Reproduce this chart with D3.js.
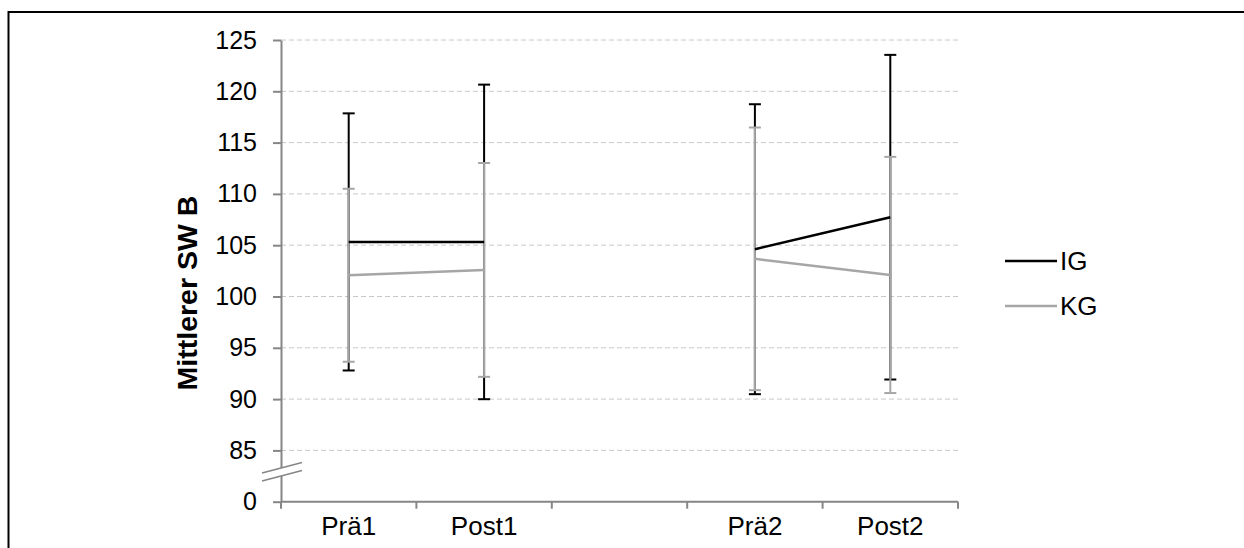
<!DOCTYPE html>
<html>
<head>
<meta charset="utf-8">
<script src="https://cdn.jsdelivr.net/npm/d3@7"></script>
<style>
  body { margin: 0; background: #fff; }
  svg { display: block; }
  text { font-family: "Liberation Sans", Arial, sans-serif; fill: #000; }
</style>
</head>
<body>
<svg id="chart" width="1244" height="548"></svg>
<script>
// Measurement points (one empty slot separates the two phases)
const categories = ["Prä1", "Post1", "", "Prä2", "Post2"];

// Mean scores and standard deviations per group
const igMean = [105.32, 105.32, null, 104.61, 107.73];
const igSD   = [12.53, 15.33, null, 14.13, 15.82];
const kgMean = [102.07, 102.59, null, 103.67, 102.10];
const kgSD   = [8.43, 10.42, null, 12.80, 11.51];

// Y axis ticks; the lowest tick sits below the axis break and reads 0
const yTicks = [80, 85, 90, 95, 100, 105, 110, 115, 120, 125];
const yTickLabels = ["0", "85", "90", "95", "100", "105", "110", "115", "120", "125"];

const seriesNames = ["IG", "KG"];
const seriesColors = { IG: "#000000", KG: "#a6a6a6" };

const svg = d3.select("#chart");
const axisColor = "#868686";
const gridColor = "#c8c8c8";
const yLabelSize = 25;
const xLabelSize = 26;

const plot = { left: 281, right: 958, top: 40, bottom: 501.7 };

const x = d3.scaleBand()
  .domain(d3.range(categories.length))
  .range([plot.left, plot.right])
  .paddingInner(0).paddingOuter(0);

const y = d3.scaleLinear()
  .domain([80, 125])
  .range([plot.bottom, plot.top]);

const cx = i => x(i) + x.bandwidth() / 2;

// Outer frame
svg.append("path")
  .attr("d", "M8.5,548 V12 H1244")
  .attr("fill", "none")
  .attr("stroke", "#000")
  .attr("stroke-width", 2);

// Horizontal dashed gridlines
svg.append("g")
  .selectAll("line")
  .data(yTicks.filter(t => t > 80))
  .join("line")
  .attr("x1", plot.left).attr("x2", plot.right)
  .attr("y1", d => y(d)).attr("y2", d => y(d))
  .attr("stroke", gridColor)
  .attr("stroke-width", 1)
  .attr("stroke-dasharray", "5,3");

// Y axis
const yAxis = d3.axisLeft(y)
  .tickValues(yTicks)
  .tickFormat((d, i) => yTickLabels[i])
  .tickSizeInner(8).tickSizeOuter(0).tickPadding(16);

const gy = svg.append("g")
  .attr("transform", `translate(${plot.left},0)`)
  .call(yAxis);
gy.select(".domain").attr("stroke", axisColor).attr("stroke-width", 2);
gy.selectAll(".tick line").attr("stroke", axisColor).attr("stroke-width", 2);
gy.selectAll(".tick text")
  .attr("font-size", yLabelSize)
  .attr("font-family", "Liberation Sans, Arial, sans-serif")
  .attr("fill", "#000");

// X axis: ticks between categories
const xAxis = d3.axisBottom(x)
  .tickFormat(i => categories[i])
  .tickSize(0).tickPadding(15);

const gx = svg.append("g")
  .attr("transform", `translate(0,${plot.bottom})`)
  .call(xAxis);
gx.select(".domain").remove();
gx.selectAll(".tick text")
  .attr("font-size", xLabelSize)
  .attr("font-family", "Liberation Sans, Arial, sans-serif")
  .attr("fill", "#000");

const bounds = d3.range(categories.length).map(i => x(i)).concat([plot.right]);
gx.append("line")
  .attr("x1", plot.left).attr("x2", plot.right)
  .attr("y1", 0).attr("y2", 0)
  .attr("stroke", axisColor).attr("stroke-width", 2);
gx.selectAll(".xtick")
  .data(bounds)
  .join("line")
  .attr("class", "xtick")
  .attr("x1", d => d).attr("x2", d => d)
  .attr("y1", 0).attr("y2", 7)
  .attr("stroke", axisColor).attr("stroke-width", 2);

// Axis break marks between 0 and 85
const breakVal = 82.4;
const brk = svg.append("g");
const bx0 = plot.left - 19, bx1 = plot.left + 21;
const slope = -10.5;
brk.append("path")
  .attr("d", `M${bx0},${y(breakVal) - 4} L${bx1},${y(breakVal) - 4 + slope} L${bx1},${y(breakVal) + 4 + slope} L${bx0},${y(breakVal) + 4} Z`)
  .attr("fill", "#fff");
[-4, 4].forEach(off => {
  brk.append("line")
    .attr("x1", bx0).attr("y1", y(breakVal) + off)
    .attr("x2", bx1).attr("y2", y(breakVal) + off + slope)
    .attr("stroke", axisColor).attr("stroke-width", 1.5);
});

// Error bars (mean ± SD)
function errorBars(means, sds, color) {
  const g = svg.append("g");
  const data = means.map((m, i) => ({ i, m, s: sds[i] })).filter(d => d.m != null);
  const cap = 6;
  g.selectAll(".v").data(data).join("line")
    .attr("x1", d => cx(d.i)).attr("x2", d => cx(d.i))
    .attr("y1", d => y(d.m + d.s)).attr("y2", d => y(d.m - d.s))
    .attr("stroke", color).attr("stroke-width", 2);
  g.selectAll(".t").data(data).join("line")
    .attr("x1", d => cx(d.i) - cap).attr("x2", d => cx(d.i) + cap)
    .attr("y1", d => y(d.m + d.s)).attr("y2", d => y(d.m + d.s))
    .attr("stroke", color).attr("stroke-width", 2);
  g.selectAll(".b").data(data).join("line")
    .attr("x1", d => cx(d.i) - cap).attr("x2", d => cx(d.i) + cap)
    .attr("y1", d => y(d.m - d.s)).attr("y2", d => y(d.m - d.s))
    .attr("stroke", color).attr("stroke-width", 2);
}

errorBars(igMean, igSD, seriesColors.IG);
errorBars(kgMean, kgSD, seriesColors.KG);

// Mean lines (gap at the empty slot)
const line = d3.line()
  .defined(d => d.m != null)
  .x(d => cx(d.i))
  .y(d => y(d.m));

[["KG", kgMean], ["IG", igMean]].forEach(([name, means]) => {
  svg.append("path")
    .datum(means.map((m, i) => ({ i, m })))
    .attr("d", line)
    .attr("fill", "none")
    .attr("stroke", seriesColors[name])
    .attr("stroke-width", 2.5);
});

// Y axis title
svg.append("text")
  .attr("transform", "translate(197,293) rotate(-90)")
  .attr("text-anchor", "middle")
  .attr("font-size", 28.5)
  .attr("font-weight", "bold")
  .text("Mittlerer SW B");

// Legend
const legend = svg.append("g");
seriesNames.forEach((name, k) => {
  const ly = 261 + k * 45;
  legend.append("line")
    .attr("x1", 1005).attr("x2", 1057)
    .attr("y1", ly).attr("y2", ly)
    .attr("stroke", seriesColors[name]).attr("stroke-width", 2.5);
  legend.append("text")
    .attr("x", 1060).attr("y", ly)
    .attr("dy", "0.35em")
    .attr("font-size", xLabelSize)
    .text(name);
});
</script>
</body>
</html>
